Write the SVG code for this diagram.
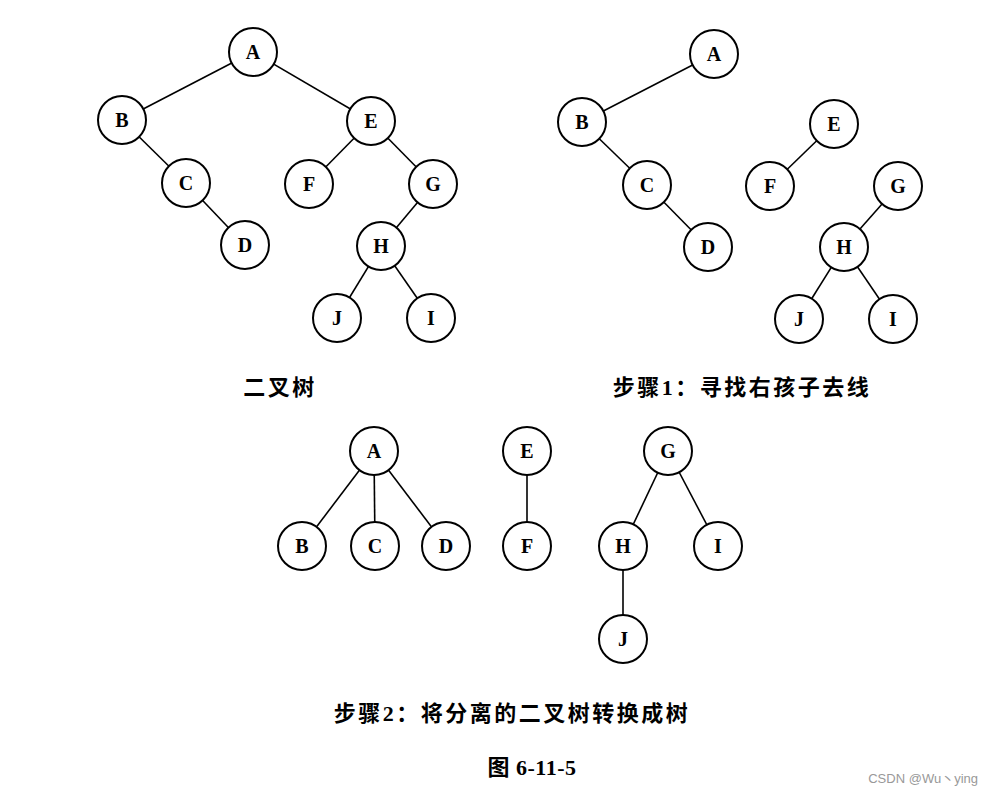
<svg xmlns="http://www.w3.org/2000/svg" width="994" height="795" viewBox="0 0 994 795">
<style>
.n circle{fill:#fff;stroke:#000;stroke-width:2}
.n text{font-family:"Liberation Serif",serif;font-weight:bold;font-size:20px;text-anchor:middle;dominant-baseline:central}
#edges line{stroke:#000;stroke-width:1.6}
.cap{font-family:"Liberation Serif","Noto Sans CJK SC",serif;font-weight:bold;font-size:22px;letter-spacing:2.5px;text-anchor:middle}
</style>
<rect width="994" height="795" fill="#fff"/>
<g id="edges">
<line x1="253" y1="52" x2="122" y2="120"/><line x1="253" y1="52" x2="371" y2="121"/>
<line x1="122" y1="120" x2="186" y2="183"/><line x1="186" y1="183" x2="245" y2="245"/>
<line x1="371" y1="121" x2="309" y2="184"/><line x1="371" y1="121" x2="433" y2="184"/>
<line x1="433" y1="184" x2="381" y2="246"/><line x1="381" y1="246" x2="337" y2="318"/><line x1="381" y1="246" x2="431" y2="318"/>
<line x1="714" y1="54" x2="582" y2="122"/><line x1="582" y1="122" x2="647" y2="185"/><line x1="647" y1="185" x2="708" y2="247"/>
<line x1="834" y1="124" x2="770" y2="186"/><line x1="898" y1="186" x2="844" y2="247"/>
<line x1="844" y1="247" x2="799" y2="319"/><line x1="844" y1="247" x2="893" y2="319"/>
<line x1="374" y1="451" x2="302" y2="546"/><line x1="374" y1="451" x2="375" y2="546"/><line x1="374" y1="451" x2="446" y2="546"/>
<line x1="527" y1="451" x2="527" y2="546"/>
<line x1="668" y1="451" x2="623" y2="546"/><line x1="668" y1="451" x2="718" y2="546"/><line x1="623" y1="546" x2="623" y2="639"/>
</g>
<g id="t1A" class="n"><circle cx="253" cy="52" r="24"/><text x="253" y="52">A</text></g>
<g id="t1B" class="n"><circle cx="122" cy="120" r="24"/><text x="122" y="120">B</text></g>
<g id="t1C" class="n"><circle cx="186" cy="183" r="24"/><text x="186" y="183">C</text></g>
<g id="t1D" class="n"><circle cx="245" cy="245" r="24"/><text x="245" y="245">D</text></g>
<g id="t1E" class="n"><circle cx="371" cy="121" r="24"/><text x="371" y="121">E</text></g>
<g id="t1F" class="n"><circle cx="309" cy="184" r="24"/><text x="309" y="184">F</text></g>
<g id="t1G" class="n"><circle cx="433" cy="184" r="24"/><text x="433" y="184">G</text></g>
<g id="t1H" class="n"><circle cx="381" cy="246" r="24"/><text x="381" y="246">H</text></g>
<g id="t1J" class="n"><circle cx="337" cy="318" r="24"/><text x="337" y="318">J</text></g>
<g id="t1I" class="n"><circle cx="431" cy="318" r="24"/><text x="431" y="318">I</text></g>
<g id="t2A" class="n"><circle cx="714" cy="54" r="24"/><text x="714" y="54">A</text></g>
<g id="t2B" class="n"><circle cx="582" cy="122" r="24"/><text x="582" y="122">B</text></g>
<g id="t2C" class="n"><circle cx="647" cy="185" r="24"/><text x="647" y="185">C</text></g>
<g id="t2D" class="n"><circle cx="708" cy="247" r="24"/><text x="708" y="247">D</text></g>
<g id="t2E" class="n"><circle cx="834" cy="124" r="24"/><text x="834" y="124">E</text></g>
<g id="t2F" class="n"><circle cx="770" cy="186" r="24"/><text x="770" y="186">F</text></g>
<g id="t2G" class="n"><circle cx="898" cy="186" r="24"/><text x="898" y="186">G</text></g>
<g id="t2H" class="n"><circle cx="844" cy="247" r="24"/><text x="844" y="247">H</text></g>
<g id="t2J" class="n"><circle cx="799" cy="319" r="24"/><text x="799" y="319">J</text></g>
<g id="t2I" class="n"><circle cx="893" cy="319" r="24"/><text x="893" y="319">I</text></g>
<g id="t3A" class="n"><circle cx="374" cy="451" r="24"/><text x="374" y="451">A</text></g>
<g id="t3B" class="n"><circle cx="302" cy="546" r="24"/><text x="302" y="546">B</text></g>
<g id="t3C" class="n"><circle cx="375" cy="546" r="24"/><text x="375" y="546">C</text></g>
<g id="t3D" class="n"><circle cx="446" cy="546" r="24"/><text x="446" y="546">D</text></g>
<g id="t3E" class="n"><circle cx="527" cy="451" r="24"/><text x="527" y="451">E</text></g>
<g id="t3F" class="n"><circle cx="527" cy="546" r="24"/><text x="527" y="546">F</text></g>
<g id="t3G" class="n"><circle cx="668" cy="451" r="24"/><text x="668" y="451">G</text></g>
<g id="t3H" class="n"><circle cx="623" cy="546" r="24"/><text x="623" y="546">H</text></g>
<g id="t3I" class="n"><circle cx="718" cy="546" r="24"/><text x="718" y="546">I</text></g>
<g id="t3J" class="n"><circle cx="623" cy="639" r="24"/><text x="623" y="639">J</text></g>
<text class="cap" x="280" y="395">二叉树</text>
<text class="cap" x="742" y="395">步骤1：寻找右孩子去线</text>
<text class="cap" x="512" y="721">步骤2：将分离的二叉树转换成树</text>
<text class="cap" x="532" y="775" style="letter-spacing:0.5px">图 6-11-5</text>
<text x="978" y="783" font-family="'Liberation Sans','Noto Sans CJK SC',sans-serif" font-size="13" fill="#999" text-anchor="end">CSDN @Wu丶ying</text>
</svg>
